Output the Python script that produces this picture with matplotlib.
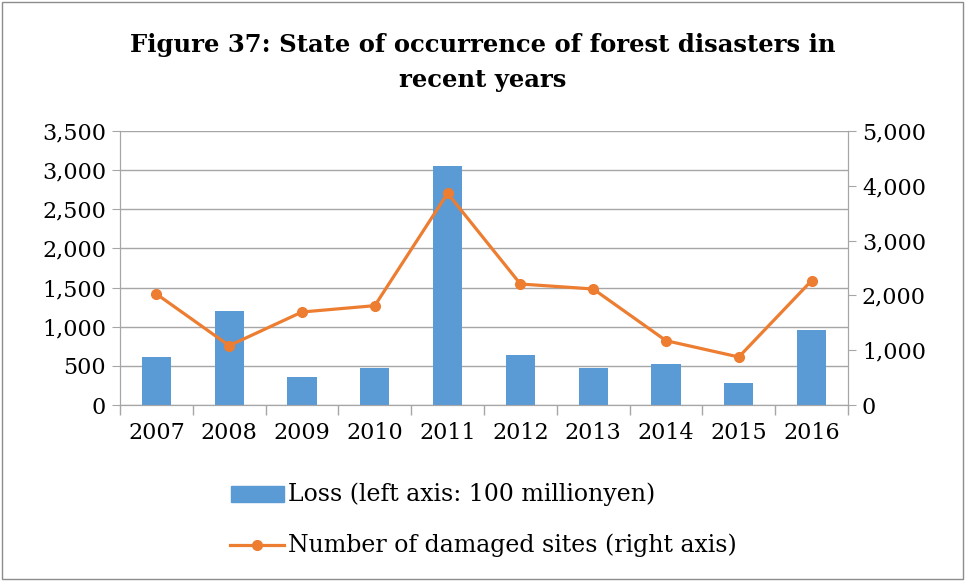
import matplotlib.pyplot as plt
from matplotlib.patches import Rectangle
from matplotlib.ticker import FuncFormatter

plt.rcParams['font.family'] = ['DejaVu Serif']

years = ['2007', '2008', '2009', '2010', '2011', '2012', '2013', '2014', '2015', '2016']
loss = [610, 1205, 358, 469, 3053, 639, 477, 524, 277, 954]
sites = [2026, 1083, 1697, 1813, 3863, 2208, 2117, 1174, 876, 2269]

bar_color = '#5B9BD5'
line_color = '#ED7D31'
grid_color = '#A6A6A6'

fig = plt.figure(figsize=(9.65, 5.81), dpi=100)
ax = fig.add_axes([120/965, 1-405/581, 728/965, 274/581])
ax2 = ax.twinx()

x = list(range(len(years)))
ax.bar(x, loss, width=0.4, color=bar_color, zorder=3)
ax2.plot(x, sites, color=line_color, lw=2.3, marker='o', ms=7, zorder=4)

ax.set_xlim(-0.5, len(years) - 0.5)
ax.set_ylim(0, 3500)
ax2.set_ylim(0, 5000)
ax.set_yticks(range(0, 3501, 500))
ax2.set_yticks(range(0, 5001, 1000))
fmt = FuncFormatter(lambda v, p: f'{int(v):,}')
ax.yaxis.set_major_formatter(fmt)
ax2.yaxis.set_major_formatter(fmt)

ax.set_xticks(x)
ax.set_xticklabels(years)
ax.set_xticks([i - 0.5 for i in range(len(years) + 1)], minor=True)
ax.tick_params(axis='x', which='major', length=0, pad=12, labelsize=16)
ax.tick_params(axis='x', which='minor', length=7, color=grid_color, width=1)
ax.tick_params(axis='y', length=6, color=grid_color, labelsize=16, pad=4)
ax2.tick_params(axis='y', length=6, color=grid_color, labelsize=16, pad=4)

ax.yaxis.grid(True, color=grid_color, lw=1, zorder=0)
ax.set_axisbelow(True)
for a in (ax, ax2):
    a.spines['top'].set_visible(False)
    a.spines['left'].set_color(grid_color)
    a.spines['right'].set_color(grid_color)
    a.spines['bottom'].set_color(grid_color)

fig.text(0.5, 1-45/581, 'Figure 37: State of occurrence of forest disasters in',
         ha='center', va='center', fontsize=17.5, fontweight='bold')
fig.text(0.5, 1-80/581, 'recent years',
         ha='center', va='center', fontsize=17.5, fontweight='bold')

# legend drawn by hand below the plot
fig.patches.append(Rectangle((231/965, 1-502/581), 53/965, 16/581,
                             transform=fig.transFigure, color=bar_color))
fig.text(288/965, 1-494/581, 'Loss (left axis: 100 millionyen)',
         ha='left', va='center', fontsize=17)
fig.lines.append(plt.Line2D([230/965, 284/965], [1-545/581, 1-545/581],
                            transform=fig.transFigure, color=line_color, lw=2.3))
fig.lines.append(plt.Line2D([257/965], [1-545/581], transform=fig.transFigure,
                            color=line_color, marker='o', ms=7, lw=0))
fig.text(288/965, 1-545/581, 'Number of damaged sites (right axis)',
         ha='left', va='center', fontsize=17)

fig.patches.append(Rectangle((2/965, 2/581), 961/965, 577/581, transform=fig.transFigure,
                             fill=False, edgecolor='#8C8C8C', lw=1))

fig.savefig('out.png', dpi=100)
